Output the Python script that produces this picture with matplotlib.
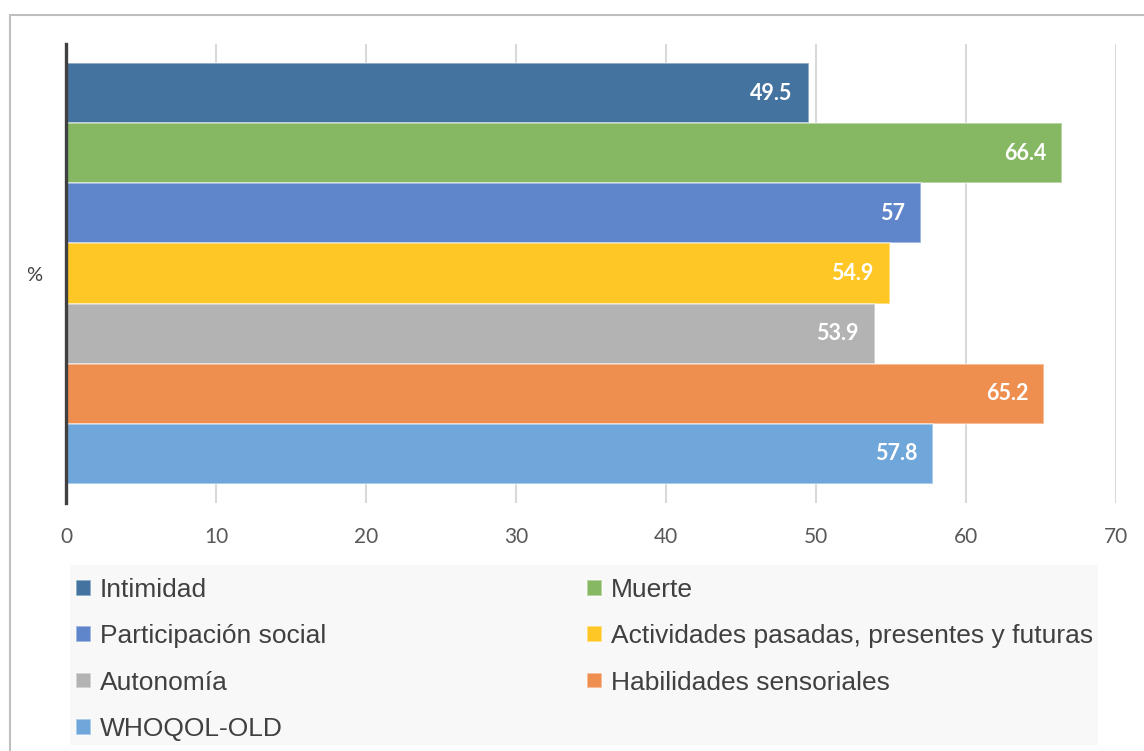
import matplotlib.pyplot as plt
from matplotlib.patches import Rectangle

# datos
series = ['Intimidad', 'Muerte', 'Participación social',
          'Actividades pasadas, presentes y futuras', 'Autonomía',
          'Habilidades sensoriales', 'WHOQOL-OLD']
values = [49.5, 66.4, 57, 54.9, 53.9, 65.2, 57.8]
labels = ['49.5', '66.4', '57', '54.9', '53.9', '65.2', '57.8']
colors = ['#44739f', '#86b864', '#5f85cb', '#ffc726', '#b3b3b3', '#ee8f50', '#70a7db']
category = '%'
xticks = [0, 10, 20, 30, 40, 50, 60, 70]

fig = plt.figure(figsize=(11.44, 7.51), dpi=100)
W, H = 1144, 751
ax = fig.add_axes([66 / W, 1 - 503 / H, (1116 - 66) / W, (503 - 44) / H])

pos = list(range(len(series)))
handles = []
for i, (s, v, c) in enumerate(zip(series, values, colors)):
    b = ax.barh(i, v, height=1.0, color=c, edgecolor=(1, 1, 1, 0.5),
                linewidth=1.2, zorder=2, label=s)
    handles.append(b)
    ax.text(v - 1.05, i, labels[i], ha='right', va='center', color='white',
            fontsize=15.5, fontweight='bold', family='Lato', zorder=3)

ax.set_xlim(0, 70)
ax.set_ylim(6.5 + 0.317, -0.5 - 0.317)
ax.set_xticks(xticks)
ax.set_xticklabels([str(t) for t in xticks], family='Lato', fontsize=15, color='#595959')
ax.set_yticks([sum(pos) / len(pos)])
ax.set_yticklabels([category], family='Lato', fontsize=14.5, color='#404040')
ax.tick_params(axis='x', length=0, pad=17)
ax.tick_params(axis='y', length=0, pad=17)
ax.grid(axis='x', color='#d9d9d9', linewidth=1.5, zorder=0)
ax.set_axisbelow(True)
for sp in ['top', 'right', 'bottom']:
    ax.spines[sp].set_visible(False)
ax.spines['left'].set_color('#404040')
ax.spines['left'].set_linewidth(2.4)
ax.spines['left'].set_zorder(4)

# fondo de la leyenda
fig.patches.append(Rectangle((70 / W, 1 - 745 / H), (1098 - 70) / W, (745 - 565) / H,
                             transform=fig.transFigure, facecolor='#f8f8f8',
                             edgecolor='none', zorder=0))

# leyenda: orden por filas
order = [0, 2, 4, 6, 1, 3, 5]
leg = fig.legend([handles[k] for k in order], [series[k] for k in order],
                 loc='upper left', ncol=2, bbox_to_anchor=(76 / W, 1 - 578 / H),
                 frameon=False,
                 prop={'family': 'Liberation Sans', 'size': 19}, labelcolor='#404040',
                 handlelength=0.55, handleheight=0.55, handletextpad=0.35,
                 labelspacing=0.85, columnspacing=9.9, borderpad=0, borderaxespad=0)

# borde del gráfico
fig.patches.append(Rectangle((10 / W, -0.1), 1.2, 1 - 15 / H + 0.1,
                             transform=fig.transFigure, fill=False,
                             edgecolor='#bfbfbf', linewidth=1.5))

fig.savefig('out.png', dpi=100)
